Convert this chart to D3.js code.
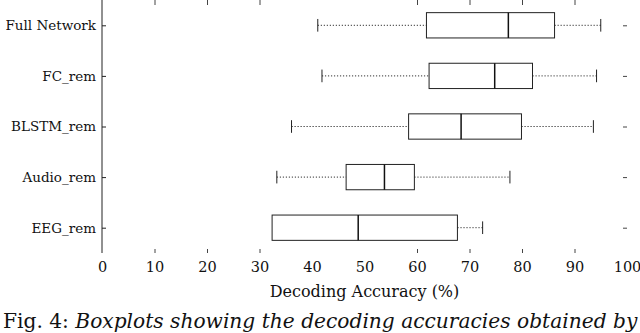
<!DOCTYPE html>
<html>
<head>
<meta charset="utf-8">
<script src="https://cdn.jsdelivr.net/npm/d3@7"></script>
<style>
  body { margin: 0; background: #fff; }
  svg  { display: block; }
</style>
</head>
<body>
<div id="chart"></div>
<script>
// ── data ──────────────────────────────────────────────────
const categories = ["Full Network", "FC_rem", "BLSTM_rem", "Audio_rem", "EEG_rem"];
const whiskerLo  = [41.1, 41.9, 36.1, 33.3, 32.4];
const q1         = [61.8, 62.3, 58.4, 46.5, 32.4];
const median     = [77.4, 74.8, 68.4, 53.8, 48.8];
const q3         = [86.2, 82.0, 79.9, 59.5, 67.7];
const whiskerHi  = [95.0, 94.2, 93.6, 77.7, 72.5];
const xTickLabels = [0, 10, 20, 30, 40, 50, 60, 70, 80, 90, 100];
const xTickMarks  = [10, 20, 30, 60, 70, 80, 90];

const FONT = "'DejaVu Serif', serif";
const W = 640, H = 333;
const PLOT = { left: 102, right: 627, top: 0, bottom: 253 };

const svg = d3.select("#chart").append("svg").attr("width", W).attr("height", H)
  .style("font-family", FONT);

const x = d3.scaleLinear().domain([0, 100]).range([PLOT.left, PLOT.right]);
const y = d3.scalePoint().domain(categories).range([PLOT.top, PLOT.bottom]).padding(0.5);
const half = y.step() / 4;      // half box height
const cap  = y.step() / 8;      // half whisker-cap height

// Left axis with category ticks
svg.append("g").attr("transform", `translate(${PLOT.left},0)`)
  .call(d3.axisLeft(y).tickSize(-4).tickPadding(6))
  .attr("font-family", FONT)
  .call(ax => ax.select(".domain").attr("d", `M0,${PLOT.top}V${PLOT.bottom}`).attr("stroke", "#222"))
  .call(ax => ax.selectAll("line").attr("stroke", "#222"))
  .call(ax => ax.selectAll("text").attr("font-size", 13.5).attr("fill", "#111"));

// Right side category ticks (no axis line)
svg.append("g").attr("transform", `translate(${PLOT.right},0)`)
  .call(d3.axisRight(y).tickSize(-4).tickFormat(""))
  .call(ax => ax.select(".domain").remove())
  .call(ax => ax.selectAll("line").attr("stroke", "#444"));

// Bottom tick labels
svg.append("g").attr("transform", `translate(0,${PLOT.bottom})`)
  .call(d3.axisBottom(x).tickValues(xTickLabels).tickSize(0).tickPadding(9))
  .attr("font-family", FONT)
  .call(ax => ax.select(".domain").remove())
  .call(ax => ax.selectAll("text").attr("font-size", 14.5).attr("fill", "#111"));

// Bottom and top tick marks
svg.append("g").attr("transform", `translate(0,${PLOT.bottom})`)
  .call(d3.axisBottom(x).tickValues(xTickMarks).tickSize(-4).tickFormat(""))
  .call(ax => ax.select(".domain").remove())
  .call(ax => ax.selectAll("line").attr("stroke", "#444"));
svg.append("g").attr("transform", `translate(0,${PLOT.top})`)
  .call(d3.axisTop(x).tickValues(xTickMarks).tickSize(-5).tickFormat(""))
  .call(ax => ax.select(".domain").remove())
  .call(ax => ax.selectAll("line").attr("stroke", "#444"));

// Axis title
svg.append("text")
  .attr("x", x(50)).attr("y", 297)
  .attr("text-anchor", "middle").attr("font-size", 16).attr("fill", "#111")
  .attr("font-family", FONT)
  .text("Decoding Accuracy (%)");

// Boxplots
const rows = categories.map((c, i) => ({
  cat: c, lo: whiskerLo[i], q1: q1[i], med: median[i], q3: q3[i], hi: whiskerHi[i]
}));

const g = svg.append("g");
rows.forEach(d => {
  const cy = y(d.cat);
  // whiskers
  [[d.lo, d.q1], [d.q3, d.hi]].forEach(([a, b]) => {
    if (b - a <= 0) return;
    g.append("line")
      .attr("x1", x(a)).attr("x2", x(b)).attr("y1", cy).attr("y2", cy)
      .attr("stroke", "#333").attr("stroke-width", 1).attr("stroke-dasharray", "1.2,1.8");
  });
  // caps
  [d.lo, d.hi].forEach(v => {
    if (v === d.q1 || v === d.q3) return;
    g.append("line")
      .attr("x1", x(v)).attr("x2", x(v)).attr("y1", cy - cap).attr("y2", cy + cap)
      .attr("stroke", "#222").attr("stroke-width", 1);
  });
  // box
  g.append("rect")
    .attr("x", x(d.q1)).attr("y", cy - half)
    .attr("width", x(d.q3) - x(d.q1)).attr("height", 2 * half)
    .attr("fill", "none").attr("stroke", "#222").attr("stroke-width", 1);
  // median
  g.append("line")
    .attr("x1", x(d.med)).attr("x2", x(d.med)).attr("y1", cy - half).attr("y2", cy + half)
    .attr("stroke", "#111").attr("stroke-width", 1.5);
});

// Caption (sits at the bottom edge, as in the figure crop)
const capText = svg.append("text").attr("x", 3).attr("y", 328)
  .attr("font-size", 20.2).attr("fill", "#111").attr("font-family", FONT);
capText.append("tspan").text("Fig. 4: ");
capText.append("tspan").attr("font-style", "italic")
  .text("Boxplots showing the decoding accuracies obtained by");
</script>
</body>
</html>
